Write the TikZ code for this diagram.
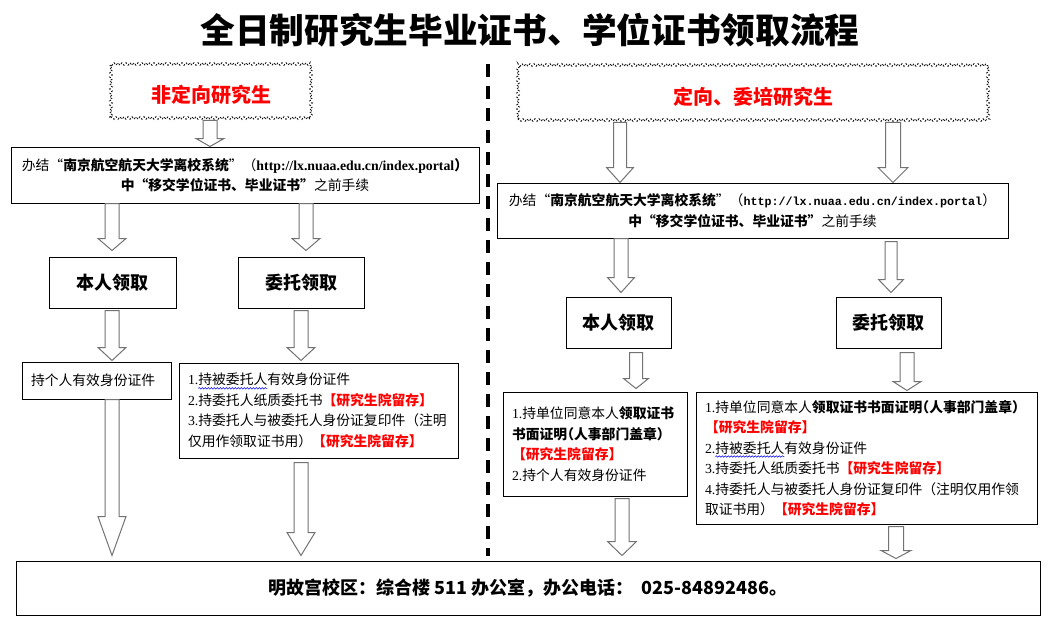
\documentclass[tikz,border=0pt]{standalone}
\usepackage{fontspec}
\setmainfont{Noto Sans CJK SC}
\newfontfamily\tnr{Liberation Serif}
\newfontfamily\cour{Liberation Mono}
\usetikzlibrary{calc,decorations.pathmorphing}

\newsavebox\wavebox
\newcommand\bluewave[1]{\sbox\wavebox{#1}\rlap{\tikz[overlay,baseline=0pt]\draw[blue, line width=0.5pt, decorate, decoration={snake, amplitude=0.8pt, segment length=3pt}] (0pt,-3.5pt) -- (\wd\wavebox,-3.5pt);}\usebox\wavebox}
\newcommand\keep{\textcolor{red}{\bfseries 【研究生院留存】}}
\newcommand\num[1]{{\tnr #1}}
\newcommand\txt{\fontsize{13.8}{20.5}\selectfont}
\newcommand\halfp{{\addfontfeature{RawFeature=+halt}（}}

% #1 x, #2 start anchor, #3 end anchor, #4 gap top, #5 gap bottom, #6 half shaft, #7 half head, #8 head length
\newcommand\blockarrow[8]{%
  \draw[blockarr] let \p1=(#1,0 |- #2), \p2=(#1,0 |- #3) in
  (\x1-#6pt,\y1-#4pt) -- (\x1+#6pt,\y1-#4pt) -- (\x1+#6pt,\y2+#5pt+#8pt)
  -- (\x1+#7pt,\y2+#5pt+#8pt) -- (\x1,\y2+#5pt) -- (\x1-#7pt,\y2+#5pt+#8pt)
  -- (\x1-#6pt,\y2+#5pt+#8pt) -- cycle;}

\begin{document}
\begin{tikzpicture}[x=1pt,y=-1pt,
  box/.style={draw=black, line width=1pt, inner sep=0pt, align=center, font=\txt},
  textbox/.style={draw=black, line width=1pt, inner ysep=0pt, inner xsep=9pt, align=left, font=\txt},
  headbox/.style={box, font=\fontsize{18}{22}\selectfont\bfseries},
  patbox/.style={draw=black, line width=0.8pt, dash pattern=on 2pt off 2pt,
     decorate, decoration={zigzag, segment length=4pt, amplitude=1.4pt},
     inner sep=0pt, text=red, font=\fontsize{20}{24}\selectfont\bfseries},
  blockarr/.style={draw=black!55, fill=white, line width=1pt, line join=miter},
  divider/.style={line width=3.3pt, dash pattern=on 13pt off 9pt}
]
\fill[white] (0,0) rectangle (1054,629);
\useasboundingbox (0,0) rectangle (1054,629);

\node[font=\fontsize{34.7}{40}\selectfont\bfseries] (title) at (530,30) {全日制研究生毕业证书、学位证书领取流程};

% divider
\coordinate (dvtop) at (488,64);
\coordinate (dvbot) at (488,556);
\draw[divider] (dvtop) -- (dvbot);

% left column
\node[patbox, minimum width=200pt, minimum height=54pt] (LD) at (211,91) {\raisebox{-11.5pt}[0pt][0pt]{非定向研究生}};
\node[box, minimum width=468pt, minimum height=56pt] (ln) at (245,175)
  {办结“\textbf{南京航空航天大学离校系统}”（{\tnr\bfseries http://lx.nuaa.edu.cn/index.portal}\textbf{）}\\
   \textbf{中“移交学位证书、毕业证书”}之前手续};
\node[headbox, minimum width=127pt, minimum height=51pt] (lb1) at (112.5,282.5) {本人领取};
\node[headbox, minimum width=126pt, minimum height=51pt] (lb2) at (301,282.5) {委托领取};
\node[textbox, minimum width=149pt, minimum height=37pt, text width=131pt] (lc1) at (96.5,380.5)
  {持个人有效身份证件};
\node[textbox, minimum width=279pt, minimum height=95pt, text width=261pt] (lc2) at (318.5,410.5)
  {\num{1.}\bluewave{持被委托人}有效身份证件\\
   \num{2.}持委托人纸质委托书\keep\\
   \num{3.}持委托人与被委托人身份证复印件（注明\\
   仅用作领取证书用）\keep};

% right column
\node[patbox, minimum width=470pt, minimum height=55pt] (RD) at (753,92.5) {\raisebox{-12pt}[0pt][0pt]{定向、委培研究生}};
\node[box, minimum width=511pt, minimum height=55pt] (rn) at (752.5,210.5)
  {办结“\textbf{南京航空航天大学离校系统}”（{\cour\bfseries\fontsize{11.7}{20}\selectfont http://lx.nuaa.edu.cn/index.portal}）\\
   \textbf{中“移交学位证书、毕业证书”}之前手续};
\node[headbox, minimum width=105pt, minimum height=51pt] (rb1) at (618.5,322.5) {本人领取};
\node[headbox, minimum width=105pt, minimum height=51pt] (rb2) at (888.5,322.5) {委托领取};
\node[textbox, minimum width=184pt, minimum height=104pt, text width=166pt] (rc1) at (595,444)
  {\num{1.}持单位同意本人\textbf{领取证书}\\
   \textbf{书面证明\halfp 人事部门盖章）}\\
   \keep\\
   \num{2.}持个人有效身份证件};
\node[textbox, minimum width=341pt, minimum height=132pt, text width=323pt] (rc2) at (866.5,458)
  {\num{1.}持单位同意本人\textbf{领取证书书面证明\halfp 人事部门盖章）}\\
   \keep\\
   \num{2.}\bluewave{持被委托人}有效身份证件\\
   \num{3.}持委托人纸质委托书\keep\\
   \num{4.}持委托人与被委托人身份证复印件（注明仅用作领\\
   取证书用）\keep};

% bottom
\node[box, minimum width=1024pt, minimum height=54pt, font=\fontsize{18}{22}\selectfont\bfseries] (bot) at (528,588)
  {明故宫校区：综合楼 511 办公室，办公电话：\hspace{8pt}025-84892486。};

% block arrows
\blockarrow{210}{LD.south}{ln.north}{2}{0}{7}{14}{8}
\blockarrow{112}{ln.south}{lb1.north}{0}{6}{7}{14}{12}
\blockarrow{306}{ln.south}{lb2.north}{0}{6}{7}{14}{12}
\blockarrow{112}{lb1.south}{lc1.north}{2}{1}{7}{14}{13}
\blockarrow{301}{lb2.south}{lc2.north}{2}{2}{7}{14}{13}
\blockarrow{112}{lc1.south}{bot.north}{0}{5}{7}{14}{39}
\blockarrow{301}{lc2.south}{bot.north}{4}{5}{7}{14}{23}

\blockarrow{620}{RD.south}{rn.north}{2}{0}{6.5}{13.5}{15}
\blockarrow{893}{RD.south}{rn.north}{2}{0}{7.5}{15}{15}
\blockarrow{621}{rn.south}{rb1.north}{0}{4}{7}{13.5}{15}
\blockarrow{891}{rn.south}{rb2.north}{3}{4}{6}{12.5}{13}
\blockarrow{636}{rb1.south}{rc1.north}{4}{3}{6.5}{12.5}{10}
\blockarrow{907}{rb2.south}{rc2.north}{4}{1}{7}{14}{9}
\blockarrow{622}{rc1.south}{bot.north}{2}{5}{7}{14.5}{14}
\blockarrow{896}{rc2.south}{bot.north}{2}{2}{7.5}{15}{8}
\end{tikzpicture}
\end{document}
